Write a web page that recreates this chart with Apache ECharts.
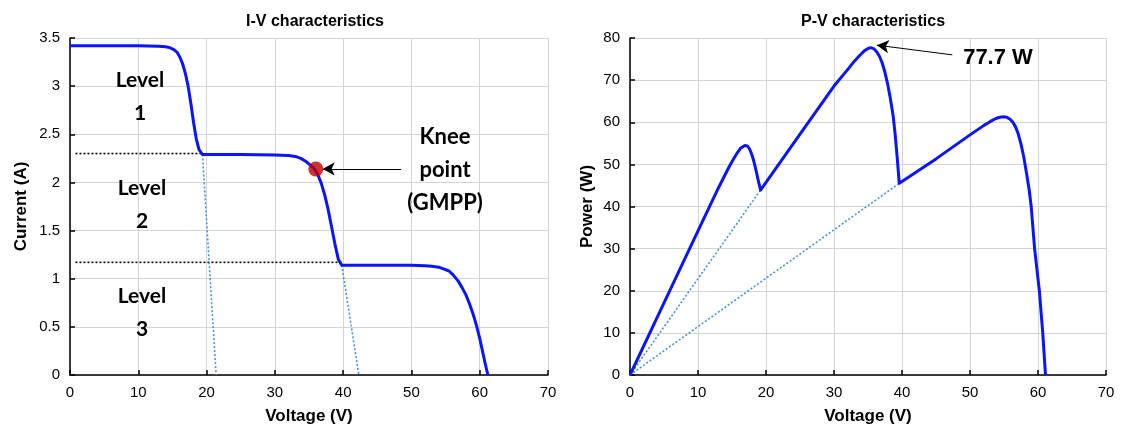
<!DOCTYPE html>
<html>
<head>
<meta charset="utf-8">
<script src="https://cdn.jsdelivr.net/npm/echarts@6/dist/echarts.min.js"></script>
<style>
  html, body { margin: 0; padding: 0; background: #fff; }
  #chart { width: 1124px; height: 435px; }
</style>
</head>
<body>
<div id="chart"></div>
<script>
// I-V curve (voltage V, current A)
const ivVoltage = [0, 5, 10, 13, 14, 14.6, 15.2, 15.7, 16.1, 16.5, 16.9, 17.3, 17.7, 18.1, 18.5, 18.9, 19.4,
  25, 30, 32, 33, 33.8, 34.5, 35.2, 35.8, 36.3, 36.8, 37.3, 37.8, 38.3, 38.8, 39.3, 39.8,
  45, 50, 52, 53, 54, 54.8, 55.5, 56.1, 56.8, 57.4, 58, 58.5, 59, 59.5, 60, 60.4, 60.8, 61.2]
const ivCurrent = [3.42, 3.42, 3.42, 3.415, 3.41, 3.40, 3.38, 3.35, 3.30, 3.23, 3.13, 3.0, 2.82, 2.62, 2.45, 2.34, 2.29,
  2.29, 2.285, 2.28, 2.27, 2.25, 2.22, 2.18, 2.14, 2.08, 1.99, 1.87, 1.72, 1.54, 1.36, 1.2, 1.14,
  1.14, 1.14, 1.135, 1.13, 1.12, 1.10, 1.08, 1.04, 0.98, 0.91, 0.83, 0.74, 0.64, 0.52, 0.38, 0.25, 0.12, 0]

// P-V curve (voltage V, power W)
const pvVoltage = [0, 5, 10, 13, 14, 14.6, 15.2, 15.8, 16.3, 16.9, 17.3, 17.6, 17.9, 18.2, 18.5, 18.8, 19.2,
  25, 30, 32, 33, 33.8, 34.5, 35.0, 35.4, 35.9, 36.3, 36.7, 37.1, 37.5, 37.9, 38.3, 38.7, 39.0, 39.3, 39.6,
  45, 50, 52, 53, 53.8, 54.4, 54.9, 55.4, 55.9, 56.3, 56.7, 57.1, 57.5, 57.9, 58.3, 58.7, 59.0, 59.5, 60.2, 60.7, 61.1]
const pvPower = [0, 17.1, 34.2, 44.4, 47.6, 49.5, 51.2, 52.8, 53.9, 54.5, 54.3, 53.6, 52.4, 50.8, 48.8, 46.6, 43.9,
  57.2, 68.6, 72.5, 74.5, 75.9, 77.0, 77.5, 77.7, 77.4, 76.7, 75.6, 74.0, 71.8, 69, 65.5, 61.5, 57, 51.5, 45.5,
  51.3, 57.0, 59.2, 60.2, 60.9, 61.2, 61.3, 61.2, 60.7, 60.0, 58.9, 57.2, 54.8, 51.8, 48, 44, 40, 30, 20, 10, 0]

// dotted guide lines
const ivGuide1 = [[19.4, 2.29], [21.4, 0]]
const ivGuide2 = [[39.8, 1.14], [42.3, 0]]
const ivLevel2 = [[0.8, 2.3], [19.4, 2.3]]
const ivLevel3 = [[0.8, 1.17], [39.8, 1.17]]
const pvGuide1 = [[0, 0], [19.2, 43.9]]
const pvGuide2 = [[0, 0], [39.6, 45.5]]

// annotations
const kneePoint = [36.0, 2.14]
const kneeArrow = [[48.5, 2.14], [37.0, 2.14]]
const peakArrow = [[47.4, 76.0], [36.3, 78.3]]

const ivData = ivVoltage.map((v, i) => [v, ivCurrent[i]])
const pvData = pvVoltage.map((v, i) => [v, pvPower[i]])

const chart = echarts.init(document.getElementById('chart'))

const font = 'Liberation Sans, Arial, sans-serif'
const calibri = 'Lato, Open Sans, sans-serif'

const xAxisBase = (gridIndex) => ({
  type: 'value',
  gridIndex: gridIndex,
  min: 0,
  max: 70,
  interval: 10,
  name: 'Voltage (V)',
  nameLocation: 'middle',
  nameGap: 33,
  nameTextStyle: { fontFamily: font, fontWeight: 'bold', fontSize: 17, color: '#000' },
  axisLine: { lineStyle: { color: '#000', width: 1.5 } },
  axisTick: { inside: true, length: 5, lineStyle: { color: '#000', width: 1.5 } },
  axisLabel: { fontFamily: font, fontSize: 15, color: '#000', margin: 10 },
  splitLine: { show: true, showMaxLine: true, lineStyle: { color: '#d4d4d4', width: 1 } }
})

const yAxisBase = (gridIndex, max, interval, name, gap) => ({
  type: 'value',
  gridIndex: gridIndex,
  min: 0,
  max: max,
  interval: interval,
  name: name,
  nameLocation: 'middle',
  nameGap: gap,
  nameTextStyle: { fontFamily: font, fontWeight: 'bold', fontSize: 17, color: '#000' },
  axisLine: { show: true, lineStyle: { color: '#000', width: 1.5 } },
  axisTick: { show: true, inside: true, length: 5, lineStyle: { color: '#000', width: 1.5 } },
  axisLabel: { fontFamily: font, fontSize: 15, color: '#000', margin: 10 },
  splitLine: { show: true, showMaxLine: true, lineStyle: { color: '#d4d4d4', width: 1 } }
})

const dotted = (xi, yi, data, color) => ({
  type: 'line',
  xAxisIndex: xi,
  yAxisIndex: yi,
  data: data,
  showSymbol: false,
  silent: true,
  lineStyle: { color: color, width: 1.6, type: [2, 2] },
  z: 2
})

const arrow = (xi, yi, pts) => ({
  type: 'line',
  xAxisIndex: xi,
  yAxisIndex: yi,
  data: [],
  markLine: {
    silent: true,
    symbol: ['none', 'arrow'],
    symbolSize: [10, 12],
    label: { show: false },
    lineStyle: { color: '#000', width: 1, type: 'solid' },
    data: [[{ coord: pts[0] }, { coord: pts[1] }]]
  }
})

const label = (x, y, text, family, size) => ({
  type: 'text',
  x: x,
  y: y,
  z: 10,
  style: {
    text: text, fontFamily: family, fontWeight: 'bold', fontSize: size,
    lineHeight: 33, align: 'center', verticalAlign: 'middle', fill: '#000'
  }
})

chart.setOption({
  animation: false,
  title: [
    { text: 'I-V characteristics', left: 310, top: 9, textAlign: 'center',
      textStyle: { fontFamily: font, fontWeight: 'bold', fontSize: 16, color: '#000' } },
    { text: 'P-V characteristics', left: 868, top: 9, textAlign: 'center',
      textStyle: { fontFamily: font, fontWeight: 'bold', fontSize: 16, color: '#000' } }
  ],
  grid: [
    { left: 70, right: 576, top: 38, bottom: 60 },
    { left: 630, right: 18, top: 38, bottom: 60 }
  ],
  xAxis: [xAxisBase(0), xAxisBase(1)],
  yAxis: [
    yAxisBase(0, 3.5, 0.5, 'Current (A)', 40),
    yAxisBase(1, 80, 10, 'Power (W)', 34)
  ],
  series: [
    dotted(0, 0, ivLevel2, '#000'),
    dotted(0, 0, ivLevel3, '#000'),
    dotted(0, 0, ivGuide1, '#4a90d9'),
    dotted(0, 0, ivGuide2, '#4a90d9'),
    {
      type: 'line', xAxisIndex: 0, yAxisIndex: 0, data: ivData,
      showSymbol: false,
      lineStyle: { color: '#0a14ff', width: 3, join: 'round' }, z: 3
    },
    {
      type: 'scatter', xAxisIndex: 0, yAxisIndex: 0, data: [kneePoint],
      symbolSize: 15, itemStyle: { color: '#c00000' }, z: 5
    },
    arrow(0, 0, kneeArrow),
    dotted(1, 1, pvGuide1, '#4a90d9'),
    dotted(1, 1, pvGuide2, '#4a90d9'),
    {
      type: 'line', xAxisIndex: 1, yAxisIndex: 1, data: pvData,
      showSymbol: false,
      lineStyle: { color: '#0a14ff', width: 3, join: 'round' }, z: 3
    },
    arrow(1, 1, peakArrow)
  ],
  graphic: [
    label(140, 97, 'Level\n1', calibri, 21),
    label(142, 205, 'Level\n2', calibri, 21),
    label(142, 313, 'Level\n3', calibri, 21),
    label(445, 170, 'Knee\npoint\n(GMPP)', calibri, 22),
    label(998, 58, '77.7 W', font, 22)
  ]
})
</script>
</body>
</html>
